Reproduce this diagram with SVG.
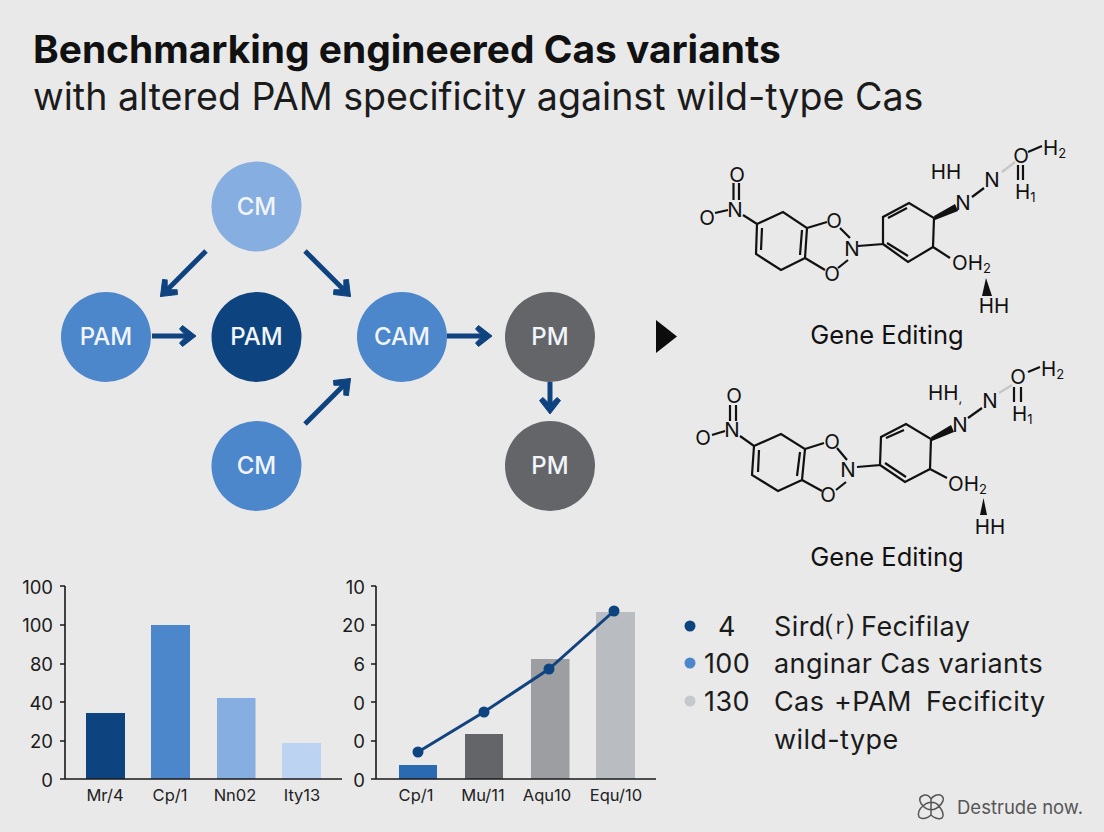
<svg xmlns="http://www.w3.org/2000/svg" width="1104" height="832" viewBox="0 0 1104 832">
<defs>
<marker id="ah" viewBox="0 0 26 26" refX="17" refY="13" markerWidth="26" markerHeight="26" markerUnits="userSpaceOnUse" orient="auto"><path d="M22 13L8.500 2.500L5.500 6L12.500 13L5.500 20L8.500 23.500Z" fill="#0f437f" stroke="#0f437f" stroke-width="1" stroke-linejoin="round"/></marker>
</defs>
<style>
text{font-family:"Inter","Liberation Sans",Arial,sans-serif;fill:#1b1b1b}
.nl{font-size:24px;font-weight:500;fill:#f1f5fa;text-anchor:middle}
.ax{font-size:18.500px;text-anchor:end}
.xl{font-size:16.500px;text-anchor:middle;fill:#222}
.lg{font-size:27px;letter-spacing:.4px}
.ch{font-size:20.500px;fill:#111}
.m{text-anchor:middle}
.s{font-size:13px}
.cl{font-size:25.500px;fill:#111;text-anchor:middle}
.bond{stroke:#111;stroke-width:2.200;fill:none}
.grey{stroke:#c6c6c6;stroke-width:2.500;fill:none}
.conn{stroke:#0f437f;stroke-width:5;fill:none;marker-end:url(#ah)}
.axl{stroke:#1a1a1a;stroke-width:1.600;fill:none}
.t1{font-size:38.900px;font-weight:700;fill:#111}
.t2{font-size:37.600px;fill:#1b1b1b}
.ft{font-size:18.500px;fill:#565656}
</style>
<rect width="1104" height="832" fill="#e9e9e9"/>
<g id="title">
<text class="t1" x="33" y="63">Benchmarking engineered Cas variants</text>
<text class="t2" x="33" y="110">with altered PAM specificity against wild-type Cas</text>
</g>
<g id="connectors">
<path class="conn" d="M206 251L164 293"/>
<path class="conn" d="M305 251L347 293"/>
<path class="conn" d="M152 336H191"/>
<path class="conn" d="M305 424L347 382"/>
<path class="conn" d="M447 336H487"/>
<path class="conn" d="M550 382V409"/>
</g>
<g id="n1"><circle cx="256.500" cy="206.500" r="45" fill="#86aee0"/><text class="nl" x="256.500" y="215">CM</text></g>
<g id="n2"><circle cx="106" cy="337" r="45" fill="#4c86cb"/><text class="nl" x="106" y="345">PAM</text></g>
<g id="n3"><circle cx="256.500" cy="337" r="45" fill="#0d437f"/><text class="nl" x="256.500" y="345">PAM</text></g>
<g id="n4"><circle cx="402" cy="337" r="45" fill="#4c86cb"/><text class="nl" x="402" y="345">CAM</text></g>
<g id="n5"><circle cx="550" cy="337" r="45" fill="#636568"/><text class="nl" x="550" y="345">PM</text></g>
<g id="n6"><circle cx="256.500" cy="466" r="45" fill="#4c86cb"/><text class="nl" x="256.500" y="474">CM</text></g>
<g id="n7"><circle cx="550" cy="466" r="45" fill="#636568"/><text class="nl" x="550" y="474">PM</text></g>
<path id="play" d="M656 320L677 336.500L656 353Z" fill="#0c0c0c"/>
<g id="mol1">
<path class="bond" d="M733.500 183V200M739 183V200M715 213L728 210M743 215L757 224L783 212L807 228L805 258L781 270L756 254L757 224M762 228L761 250M802 230L800 255M807 228L827 222M805 258L825 270M840 228L850 238M838 268L848 260M858 246L883 244L883 217L909 203L934 218L933 247L908 262L883 244M888 218L907 208M887 243L908 256M933 247L950 258M972 197L984 188M1018 165V180M1023 165V180M1028 152L1042 146"/>
<path class="grey" d="M1002 172L1015 162"/>
<path d="M934 216L955 204L958 211L935 220Z" fill="#111"/>
<path d="M986 278L992 296H982Z" fill="#111"/>
<text class="ch m" x="737" y="182">O</text>
<text class="ch m" x="707" y="225">O</text>
<text class="ch m" x="735" y="217">N</text>
<text class="ch m" x="834" y="228">O</text>
<text class="ch m" x="852" y="256">N</text>
<text class="ch m" x="832" y="281">O</text>
<text class="ch m" x="963" y="210">N</text>
<text class="ch m" x="992" y="187">N</text>
<text class="ch m" x="946" y="179">HH</text>
<text class="ch m" x="1021" y="163">O</text>
<text class="ch" x="1043" y="155">H<tspan class="s" dy="3">2</tspan></text>
<text class="ch" x="1015" y="199">H<tspan class="s" dy="3">1</tspan></text>
<text class="ch" x="952" y="270">OH<tspan class="s" dy="3">2</tspan></text>
<text class="ch m" x="994" y="313">HH</text>
<text class="cl" x="887" y="344">Gene Editing</text>
</g>
<g id="mol2">
<path class="bond" d="M730 405V421M736 405V421M712 435L725 431M740 436L754 446L781 434L805 449L802 480L778 491L752 475L754 446M759 450L758 472M800 452L797 476M805 449L824 443M802 480L822 491M837 448L847 460M836 490L846 482M857 467L880 465L881 437L906 424L931 439L930 469L905 482L880 465M886 438L904 430M885 463L906 477M930 469L947 478M968 418L982 408M1014 387V402M1021 387V402M1028 372L1040 367"/>
<path class="grey" d="M999 393L1012 385"/>
<path d="M931 437L951 425L954 432L932 441Z" fill="#111"/>
<path d="M983.500 498L987 515H980Z" fill="#111"/>
<text class="ch m" x="734" y="403">O</text>
<text class="ch m" x="703" y="445">O</text>
<text class="ch m" x="732" y="437">N</text>
<text class="ch m" x="832" y="449">O</text>
<text class="ch m" x="848" y="477">N</text>
<text class="ch m" x="828" y="502">O</text>
<text class="ch m" x="960" y="432">N</text>
<text class="ch m" x="990" y="408">N</text>
<text class="ch" x="928" y="400">HH<tspan class="s" dy="3">,</tspan></text>
<text class="ch m" x="1018" y="384">O</text>
<text class="ch" x="1041" y="376">H<tspan class="s" dy="3">2</tspan></text>
<text class="ch" x="1012" y="421">H<tspan class="s" dy="3">1</tspan></text>
<text class="ch" x="948" y="491">OH<tspan class="s" dy="3">2</tspan></text>
<text class="ch m" x="990" y="534">HH</text>
<text class="cl" x="887" y="566">Gene Editing</text>
</g>
<g id="chart1">
<rect x="86" y="713" width="39" height="66" fill="#0d437f"/>
<rect x="151" y="625" width="39" height="154" fill="#4c86cb"/>
<rect x="217" y="698" width="38.500" height="81" fill="#86aee0"/>
<rect x="282" y="743" width="39" height="36" fill="#bcd4f2"/>
<path class="axl" d="M65 586V779M60 586H65M60 625H65M60 664H65M60 702H65M60 741H65M60 779H342"/>
<text class="ax" x="53" y="594">100</text><text class="ax" x="53" y="632">100</text><text class="ax" x="53" y="671">80</text><text class="ax" x="53" y="710">40</text><text class="ax" x="53" y="748">20</text><text class="ax" x="53" y="787">0</text>
<text class="xl" x="105" y="801">Mr/4</text><text class="xl" x="170" y="801">Cp/1</text><text class="xl" x="235" y="801">Nn02</text><text class="xl" x="302" y="801">Ity13</text>
</g>
<g id="chart2">
<rect x="399" y="765" width="38" height="14" fill="#2a6ab0"/>
<rect x="465" y="734" width="38" height="45" fill="#636568"/>
<rect x="531" y="659" width="38.500" height="120" fill="#9c9ea1"/>
<rect x="596" y="612" width="39" height="167" fill="#b9bcc0"/>
<path class="axl" d="M376 586V779M371 586H376M371 625H376M371 664H376M371 702H376M371 741H376M371 779H656"/>
<text class="ax" x="365" y="594">10</text><text class="ax" x="365" y="632">20</text><text class="ax" x="365" y="671">6</text><text class="ax" x="365" y="710">0</text><text class="ax" x="365" y="748">0</text><text class="ax" x="365" y="787">0</text>
<path d="M418 752L484 712L549 669L614 611" stroke="#12437f" stroke-width="3" fill="none"/>
<g fill="#0d437f"><circle cx="418" cy="752" r="5.500"/><circle cx="484" cy="712" r="5.500"/><circle cx="549" cy="669" r="5.500"/><circle cx="614" cy="611" r="5.500"/></g>
<text class="xl" x="416" y="801">Cp/1</text><text class="xl" x="483" y="801">Mu/11</text><text class="xl" x="547" y="801">Aqu10</text><text class="xl" x="616" y="801">Equ/10</text>
</g>
<g id="legend">
<circle cx="690" cy="626" r="5.500" fill="#0d437f"/><circle cx="690" cy="663" r="5.500" fill="#4c86cb"/><circle cx="690" cy="701" r="5.500" fill="#c5c8cd"/>
<text class="lg m" x="727" y="636">4</text>
<text class="lg m" x="727" y="673">100</text>
<text class="lg m" x="727" y="711">130</text>
<text class="lg" x="774" y="636">Sird⒭ Fecifilay</text>
<text class="lg" x="774" y="673">anginar Cas variants</text>
<text class="lg" x="774" y="711">Cas <tspan x="834">+PAM</tspan> <tspan x="926">Fecificity</tspan></text>
<text class="lg" x="774" y="749">wild-type</text>
</g>
<g id="footer">
<path d="M922 796C927 793 930 797 931 799C933 796 938 793 942 796C945 799 942 804 939 806C942 810 945 815 942 818C938 820 933 817 931 815C928 818 922 820 919 817C917 813 920 808 923 806C920 803 918 798 922 796ZM923 806C928 801 935 801 939 806C935 811 928 811 923 806ZM931 799V815" fill="none" stroke="#555" stroke-width="1.500"/>
<text class="ft" x="957" y="814">Destrude now.</text>
</g>
</svg>
